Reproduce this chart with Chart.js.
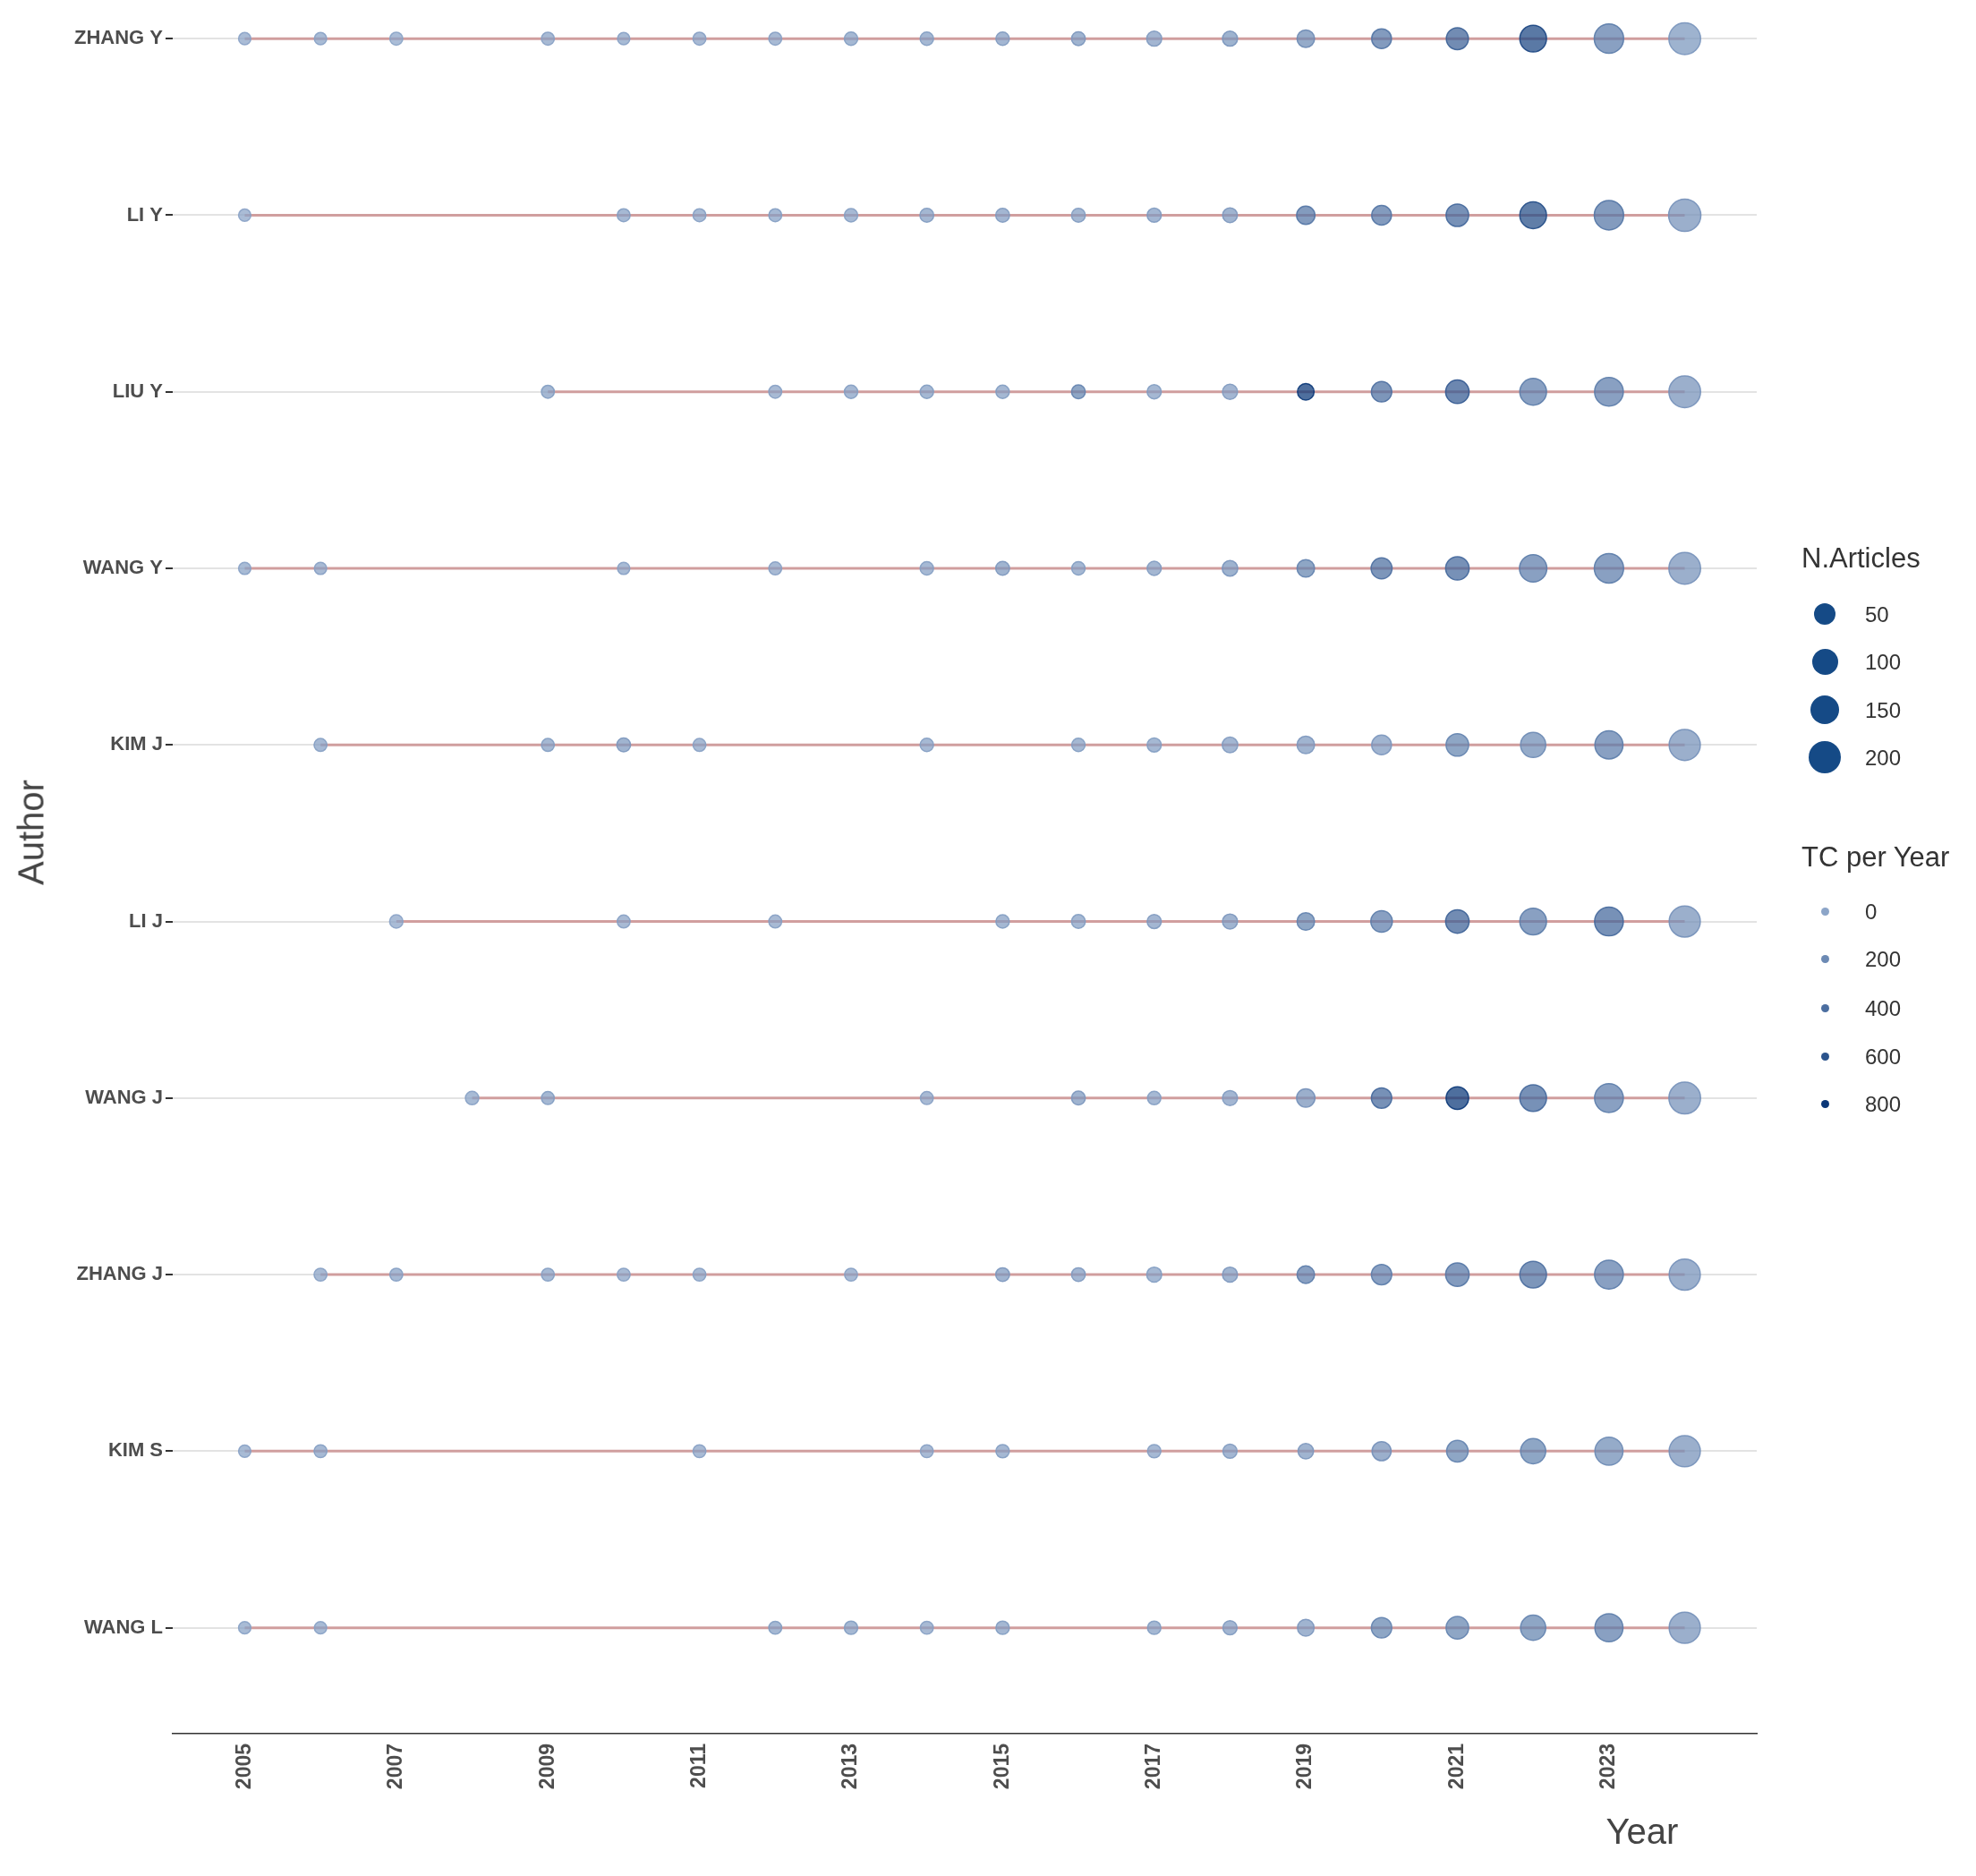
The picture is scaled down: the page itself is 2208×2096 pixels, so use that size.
<!DOCTYPE html>
<html><head><meta charset="utf-8">
<script src="https://cdn.jsdelivr.net/npm/chart.js@4"></script>
<style>
html,body{margin:0;padding:0;background:#fff;}
#wrap{position:relative;width:2208px;height:2096px;font-family:"Liberation Sans",Arial,sans-serif;}
canvas{position:absolute;left:0;top:0;}
.t{position:absolute;color:#333;white-space:nowrap;}
.c{position:absolute;border-radius:50%;}
</style></head><body>
<div id="wrap"><canvas id="c" width="2208" height="2096"></canvas></div>
<script>
const authors = ["ZHANG Y","LI Y","LIU Y","WANG Y","KIM J","LI J","WANG J","ZHANG J","KIM S","WANG L"];
const xTicks = [2005,2007,2009,2011,2013,2015,2017,2019,2021,2023];
const years = [
 [2005,2006,2007,2009,2010,2011,2012,2013,2014,2015,2016,2017,2018,2019,2020,2021,2022,2023,2024],
 [2005,2010,2011,2012,2013,2014,2015,2016,2017,2018,2019,2020,2021,2022,2023,2024],
 [2009,2012,2013,2014,2015,2016,2017,2018,2019,2020,2021,2022,2023,2024],
 [2005,2006,2010,2012,2014,2015,2016,2017,2018,2019,2020,2021,2022,2023,2024],
 [2006,2009,2010,2011,2014,2016,2017,2018,2019,2020,2021,2022,2023,2024],
 [2007,2010,2012,2015,2016,2017,2018,2019,2020,2021,2022,2023,2024],
 [2008,2009,2014,2016,2017,2018,2019,2020,2021,2022,2023,2024],
 [2006,2007,2009,2010,2011,2013,2015,2016,2017,2018,2019,2020,2021,2022,2023,2024],
 [2005,2006,2011,2014,2015,2017,2018,2019,2020,2021,2022,2023,2024],
 [2005,2006,2012,2013,2014,2015,2017,2018,2019,2020,2021,2022,2023,2024]
];
const articles = [
 [1,1,2,2,1,2,2,3,3,3,4,8,8,20,35,55,110,150,190],
 [1,2,2,2,3,4,4,4,5,7,25,35,60,110,150,200],
 [2,2,3,3,3,4,5,8,15,40,70,110,140,190],
 [1,1,1,2,3,4,3,5,10,20,45,70,120,150,190],
 [2,2,4,2,3,3,5,10,20,35,60,90,130,180],
 [3,2,2,3,4,5,8,20,50,70,110,140,180],
 [3,2,2,4,3,8,25,40,60,110,140,190],
 [2,2,2,2,2,2,4,4,8,8,20,40,70,110,140,180],
 [1,2,2,2,3,3,5,10,30,50,90,130,180],
 [1,1,2,3,2,3,3,5,15,40,60,90,130,180]
];
const tcPerYear = [
 [20,30,10,40,30,40,40,60,60,80,100,80,120,200,350,500,700,300,120],
 [20,50,40,50,50,70,80,70,80,100,350,350,450,650,350,150],
 [60,40,50,60,60,250,60,80,800,400,550,300,300,150],
 [30,40,30,40,50,100,60,70,120,250,400,450,300,300,150],
 [50,60,100,40,50,60,60,80,100,100,250,200,300,150],
 [20,40,40,60,60,80,100,250,300,500,300,450,150],
 [30,60,40,100,50,80,150,450,800,450,300,150],
 [40,50,50,40,40,40,100,80,60,100,300,300,350,400,300,150],
 [30,50,40,40,60,50,80,100,150,250,250,200,150],
 [30,30,60,60,40,60,60,80,100,250,250,250,300,150]
];
const sizeLegend = [50,100,150,200];
const tcLegend = [0,200,400,600,800];

function rad(n){return 6+0.85*Math.sqrt(n);}
function col(tc,a){
  const f=Math.max(0,Math.min(1,tc/800));
  const r=Math.round(140+(10-140)*f), g=Math.round(165+(55-165)*f), b=Math.round(200+(120-200)*f);
  return `rgba(${r},${g},${b},${a})`;
}
const datasets=[];
authors.forEach((a,i)=>{
  const ys=years[i];
  datasets.push({type:'line',data:[{x:ys[0],y:i},{x:2024,y:i}],borderColor:'rgba(205,150,150,0.9)',borderWidth:3,pointRadius:0,order:2});
});
authors.forEach((a,i)=>{
  datasets.push({type:'bubble',order:1,
    data:years[i].map((y,j)=>({x:y,y:i,r:rad(articles[i][j])})),
    backgroundColor:tcPerYear[i].map(t=>col(t,0.72)),
    borderColor:tcPerYear[i].map(t=>col(t,0.9)),borderWidth:1.5});
});
new Chart(document.getElementById('c'),{
  data:{datasets},
  options:{responsive:false,animation:false,
    layout:{padding:{left:0,right:245,top:0,bottom:0}},
    plugins:{legend:{display:false},tooltip:{enabled:false}},
    scales:{
      x:{type:'linear',min:2004.05,max:2024.95,
        afterBuildTicks:ax=>{ax.ticks=xTicks.map(v=>({value:v}));},
        afterFit:ax=>{ax.height=159;},
        grid:{display:false,drawTicks:true,tickLength:8,tickColor:'#333'},
        border:{display:true,color:'#333',width:1.5},
        ticks:{minRotation:90,maxRotation:90,color:'#4d4d4d',font:{size:23,weight:'bold',family:'Liberation Sans'},callback:v=>String(v)},
        title:{display:false}},
      y:{type:'linear',min:-0.12,max:9.6,reverse:true,
        afterBuildTicks:ax=>{ax.ticks=authors.map((a,i)=>({value:i}));},
        afterFit:ax=>{ax.width=193;},
        grid:{color:'#e3e3e3',lineWidth:2,drawTicks:true,tickLength:8,tickColor:'#333'},
        border:{display:false},
        ticks:{color:'#4d4d4d',font:{size:22,weight:'bold',family:'Liberation Sans'},callback:v=>authors[v]??''}}
    }}
});
const w=document.getElementById('wrap');
function txt(s,x,y,size,extra){const d=document.createElement('div');d.className='t';d.textContent=s;d.style.left=x+'px';d.style.top=y+'px';d.style.fontSize=size+'px';if(extra)Object.assign(d.style,extra);w.appendChild(d);return d;}
txt('Author',35,930,40,{transform:'translate(-50%,-50%) rotate(-90deg)',color:'#444'});
txt('Year',1835,2046,40,{transform:'translate(-50%,-50%)',color:'#444'});
txt('N.Articles',2013,606,31);
const sy=[686,739,793,846];
sizeLegend.forEach((n,i)=>{
  const r=rad(n);const d=document.createElement('div');d.className='c';
  Object.assign(d.style,{left:(2039-r)+'px',top:(sy[i]-r)+'px',width:2*r+'px',height:2*r+'px',background:'#154a86'});w.appendChild(d);
  txt(String(n),2084,sy[i]-13,24);
});
txt('TC per Year',2013,940,31);
const ty=[1018,1071,1126,1180,1233];
tcLegend.forEach((t,i)=>{
  const r=4.5;const d=document.createElement('div');d.className='c';
  Object.assign(d.style,{left:(2039-r)+'px',top:(ty[i]-r)+'px',width:2*r+'px',height:2*r+'px',background:col(t,1)});w.appendChild(d);
  txt(String(t),2084,ty[i]-13,24);
});
</script></body></html>
